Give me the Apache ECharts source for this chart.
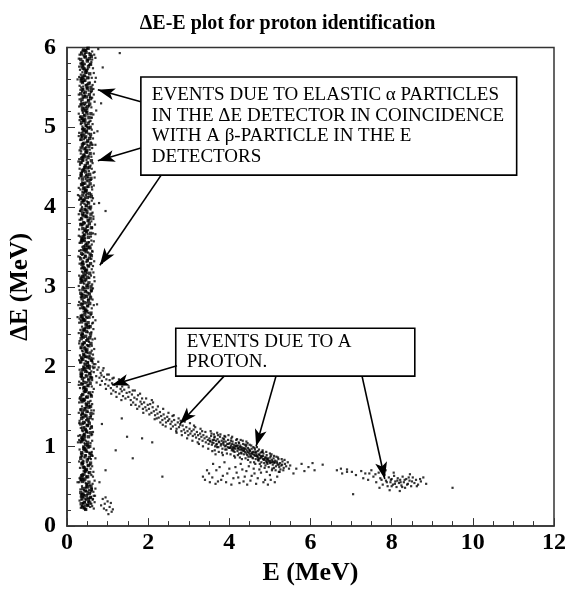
<!DOCTYPE html>
<html><head><meta charset="utf-8">
<script src="https://cdn.jsdelivr.net/npm/echarts@6/dist/echarts.min.js"></script>
<style>html,body{margin:0;padding:0;background:#fff}#c{width:575px;height:591px}</style>
</head><body><div id="c"></div>
<script>
// ---- data (E [MeV], dE [MeV]), flat x,y lists ----
const alphaBand = [
.31,5.91,.38,5.96,.44,5.92,.50,5.99,.35,5.94,.47,5.97,.41,5.90,.55,5.93,
.29,5.86,.36,5.81,.43,5.88,.52,5.84,.39,5.83,.46,5.89,.33,5.80,.49,5.85,
.32,5.72,.40,5.77,.47,5.71,.54,5.78,.36,5.75,.44,5.79,.30,5.76,.51,5.73,
.34,5.66,.41,5.61,.48,5.68,.30,5.63,.38,5.69,.45,5.64,.53,5.62,.36,5.60,
.31,5.52,.39,5.57,.46,5.53,.56,5.56,.35,5.50,.43,5.58,.50,5.54,.40,5.51,
.33,5.47,.42,5.43,.49,5.49,.29,5.41,.37,5.45,.45,5.40,.53,5.46,.39,5.48,
.35,5.32,.41,5.37,.48,5.31,.31,5.35,.44,5.39,.52,5.34,.38,5.30,.57,5.38,
.30,5.26,.37,5.21,.43,5.28,.50,5.23,.34,5.29,.46,5.25,.40,5.20,.54,5.27,
.32,5.13,.39,5.18,.45,5.11,.51,5.16,.36,5.10,.42,5.15,.48,5.19,.29,5.17,
.34,5.04,.41,5.08,.47,5.02,.55,5.07,.31,5.09,.38,5.01,.44,5.05,.50,5.00,
.30,4.93,.37,4.98,.43,4.91,.49,4.96,.35,4.90,.46,4.94,.40,4.99,.53,4.92,
.33,4.84,.39,4.80,.45,4.87,.52,4.82,.29,4.89,.42,4.85,.48,4.81,.36,4.88,
.31,4.71,.38,4.76,.44,4.73,.50,4.78,.35,4.70,.47,4.75,.41,4.79,.56,4.72,
.34,4.67,.40,4.62,.46,4.69,.53,4.64,.30,4.60,.43,4.66,.37,4.63,.49,4.68,
.32,4.53,.39,4.58,.45,4.51,.51,4.56,.36,4.55,.42,4.50,.48,4.59,.28,4.57,
.35,4.42,.41,4.47,.47,4.40,.54,4.45,.31,4.48,.38,4.44,.44,4.49,.50,4.41,
.30,4.36,.37,4.31,.43,4.38,.49,4.33,.34,4.39,.46,4.35,.40,4.30,.52,4.37,
.33,4.22,.39,4.27,.45,4.20,.51,4.25,.29,4.24,.42,4.29,.48,4.21,.36,4.28,
.31,4.14,.38,4.19,.44,4.12,.50,4.17,.35,4.11,.47,4.15,.41,4.18,.55,4.13,
.34,4.03,.40,4.08,.46,4.01,.52,4.06,.30,4.09,.43,4.04,.37,4.00,.49,4.07,
.32,3.95,.39,3.90,.45,3.97,.50,3.92,.36,3.98,.42,3.93,.48,3.96,.29,3.91,
.35,3.86,.41,3.81,.47,3.88,.53,3.83,.31,3.84,.38,3.89,.44,3.80,.50,3.87,
.30,3.72,.37,3.77,.43,3.70,.49,3.75,.34,3.79,.46,3.73,.40,3.78,.52,3.71,
.33,3.63,.39,3.68,.45,3.61,.51,3.66,.36,3.60,.42,3.65,.48,3.69,.29,3.64,
.31,3.55,.38,3.50,.44,3.57,.50,3.52,.35,3.58,.47,3.54,.41,3.51,.54,3.56,
.34,3.46,.40,3.41,.46,3.48,.52,3.43,.30,3.45,.43,3.49,.37,3.40,.49,3.47,
.32,3.37,.39,3.32,.45,3.39,.51,3.34,.36,3.30,.42,3.36,.48,3.31,.28,3.38,
.35,3.23,.41,3.28,.47,3.21,.53,3.26,.31,3.29,.38,3.24,.44,3.20,.50,3.27,
.30,3.14,.37,3.19,.43,3.12,.49,3.17,.34,3.10,.46,3.15,.40,3.18,.55,3.11,
.33,3.05,.39,3.00,.45,3.07,.51,3.02,.36,3.08,.42,3.04,.48,3.09,.29,3.01,
.31,2.96,.38,2.91,.44,2.98,.50,2.93,.35,2.90,.47,2.95,.41,2.99,.53,2.92,
.34,2.87,.40,2.82,.46,2.89,.52,2.84,.30,2.81,.43,2.86,.37,2.88,.49,2.80,
.32,2.73,.39,2.78,.45,2.71,.51,2.76,.36,2.79,.42,2.74,.48,2.70,.28,2.77,
.35,2.64,.41,2.69,.47,2.62,.53,2.67,.31,2.60,.38,2.65,.44,2.68,.50,2.61,
.30,2.55,.37,2.50,.43,2.57,.49,2.52,.34,2.58,.46,2.54,.40,2.59,.55,2.51,
.33,2.46,.39,2.41,.45,2.48,.51,2.43,.36,2.40,.42,2.45,.48,2.49,.29,2.42,
.31,2.32,.38,2.37,.44,2.30,.50,2.35,.35,2.39,.47,2.33,.41,2.36,.54,2.31,
.34,2.23,.40,2.28,.46,2.21,.52,2.26,.30,2.29,.43,2.24,.37,2.20,.49,2.27,
.32,2.14,.39,2.19,.45,2.12,.51,2.17,.36,2.10,.42,2.15,.48,2.18,.56,2.13,
.33,2.05,.40,2.00,.46,2.07,.53,2.02,.30,2.08,.43,2.04,.37,2.09,.50,2.01,
.31,1.96,.38,1.91,.44,1.98,.50,1.93,.35,1.90,.47,1.95,.41,1.99,.56,1.92,
.34,1.87,.40,1.82,.46,1.89,.52,1.84,.30,1.81,.43,1.86,.37,1.88,.49,1.80,
.32,1.73,.39,1.78,.45,1.71,.51,1.76,.36,1.79,.42,1.74,.48,1.70,.29,1.77,
.35,1.64,.41,1.69,.47,1.62,.53,1.67,.31,1.60,.38,1.65,.44,1.68,.50,1.61,
.30,1.55,.37,1.50,.43,1.57,.49,1.52,.34,1.58,.46,1.54,.40,1.59,.55,1.51,
.33,1.46,.39,1.41,.45,1.48,.51,1.43,.36,1.40,.42,1.45,.48,1.49,.29,1.42,
.31,1.32,.38,1.37,.44,1.30,.50,1.35,.35,1.39,.47,1.33,.41,1.36,.53,1.31,
.34,1.23,.40,1.28,.46,1.21,.52,1.26,.30,1.29,.43,1.24,.37,1.20,.49,1.27,
.32,1.14,.39,1.19,.45,1.12,.51,1.17,.36,1.10,.42,1.15,.48,1.18,.28,1.13,
.33,1.05,.40,1.00,.46,1.07,.52,1.02,.30,1.08,.43,1.04,.37,1.09,.49,1.01,
.31,0.96,.38,0.91,.44,0.98,.50,0.93,.35,0.90,.47,0.95,.41,0.99,.55,0.92,
.34,0.87,.40,0.82,.46,0.89,.52,0.84,.30,0.81,.43,0.86,.37,0.88,.49,0.80,
.32,0.73,.39,0.78,.45,0.71,.51,0.76,.36,0.79,.42,0.74,.48,0.70,.57,0.77,
.35,0.64,.41,0.69,.47,0.62,.53,0.67,.31,0.60,.38,0.65,.44,0.68,.50,0.61,
.30,0.55,.37,0.50,.43,0.57,.49,0.52,.34,0.58,.46,0.54,.40,0.59,.56,0.51,
.33,0.46,.39,0.41,.45,0.48,.51,0.43,.36,0.40,.42,0.45,.48,0.49,.60,0.44,
.31,0.32,.38,0.37,.44,0.30,.50,0.35,.35,0.39,.47,0.33,.41,0.36,.55,0.31,
.34,0.23,.40,0.28,.46,0.21,.52,0.26,.37,0.25,.43,0.22
];
const alphaCore = [
.36,5.92,.41,5.97,.47,5.94,.52,5.99,.57,5.91,.44,5.96,
.34,5.85,.39,5.80,.45,5.88,.50,5.83,.55,5.86,.60,5.89,
.37,5.78,.43,5.73,.48,5.71,.53,5.76,.58,5.79,.40,5.74,
.35,5.61,.42,5.65,.46,5.69,.51,5.62,.56,5.67,.38,5.63,
.38,5.56,.44,5.59,.49,5.52,.54,5.55,.59,5.50,.35,5.58,
.34,5.42,.39,5.47,.45,5.44,.50,5.49,.55,5.41,.60,5.46,
.37,5.35,.43,5.30,.48,5.38,.53,5.33,.58,5.36,.40,5.39,
.35,5.28,.42,5.23,.46,5.21,.51,5.26,.56,5.29,.38,5.24,
.38,5.11,.44,5.15,.49,5.19,.54,5.12,.59,5.17,.35,5.13,
.36,5.06,.41,5.09,.47,5.02,.52,5.05,.57,5.00,.44,5.08,
.37,4.92,.43,4.97,.48,4.94,.53,4.99,.58,4.91,.40,4.96,
.35,4.85,.42,4.80,.46,4.88,.51,4.83,.56,4.86,.38,4.89,
.38,4.78,.44,4.73,.49,4.71,.54,4.76,.59,4.79,.35,4.74,
.36,4.61,.41,4.65,.47,4.69,.52,4.62,.57,4.67,.44,4.63,
.34,4.56,.39,4.59,.45,4.52,.50,4.55,.55,4.50,.60,4.58,
.35,4.42,.42,4.47,.46,4.44,.51,4.49,.56,4.41,.38,4.46,
.38,4.35,.44,4.30,.49,4.38,.54,4.33,.59,4.36,.35,4.39,
.36,4.28,.41,4.23,.47,4.21,.52,4.26,.57,4.29,.44,4.24,
.34,4.11,.39,4.15,.45,4.19,.50,4.12,.55,4.17,.60,4.13,
.37,4.06,.43,4.09,.48,4.02,.53,4.05,.58,4.00,.40,4.08,
.38,3.92,.44,3.97,.49,3.94,.54,3.99,.59,3.91,.35,3.96,
.36,3.85,.41,3.80,.47,3.88,.52,3.83,.57,3.86,.44,3.89,
.34,3.78,.39,3.73,.45,3.71,.50,3.76,.55,3.79,.60,3.74,
.37,3.61,.43,3.65,.48,3.69,.53,3.62,.58,3.67,.40,3.63,
.35,3.56,.42,3.59,.46,3.52,.51,3.55,.56,3.50,.38,3.58,
.36,3.42,.41,3.47,.47,3.44,.52,3.49,.57,3.41,.44,3.46,
.34,3.35,.39,3.30,.45,3.38,.50,3.33,.55,3.36,.60,3.39,
.37,3.28,.43,3.23,.48,3.21,.53,3.26,.58,3.29,.40,3.24,
.35,3.11,.42,3.15,.46,3.19,.51,3.12,.56,3.17,.38,3.13,
.38,3.06,.44,3.09,.49,3.02,.54,3.05,.59,3.00,.35,3.08,
.34,2.92,.39,2.97,.45,2.94,.50,2.99,.55,2.91,.60,2.96,
.37,2.85,.43,2.80,.48,2.88,.53,2.83,.58,2.86,.40,2.89,
.35,2.78,.42,2.73,.46,2.71,.51,2.76,.56,2.79,.38,2.74,
.38,2.61,.44,2.65,.49,2.69,.54,2.62,.59,2.67,.35,2.63,
.36,2.56,.41,2.59,.47,2.52,.52,2.55,.57,2.50,.44,2.58,
.37,2.42,.43,2.47,.48,2.44,.53,2.49,.58,2.41,.40,2.46,
.35,2.35,.42,2.30,.46,2.38,.51,2.33,.56,2.36,.38,2.39,
.38,2.28,.44,2.23,.49,2.21,.54,2.26,.59,2.29,.35,2.24,
.36,2.11,.41,2.15,.47,2.19,.52,2.12,.57,2.17,.44,2.13,
.34,2.06,.39,2.09,.45,2.02,.50,2.05,.55,2.00,.60,2.08,
.35,1.92,.42,1.97,.46,1.94,.51,1.99,.56,1.91,.38,1.96,
.38,1.85,.44,1.80,.49,1.88,.54,1.83,.59,1.86,.35,1.89,
.36,1.78,.41,1.73,.47,1.71,.52,1.76,.57,1.79,.44,1.74,
.34,1.61,.39,1.65,.45,1.69,.50,1.62,.55,1.67,.60,1.63,
.37,1.56,.43,1.59,.48,1.52,.53,1.55,.58,1.50,.40,1.58,
.38,1.42,.44,1.47,.49,1.44,.54,1.49,.59,1.41,.35,1.46,
.36,1.35,.41,1.30,.47,1.38,.52,1.33,.57,1.36,.44,1.39,
.34,1.28,.39,1.23,.45,1.21,.50,1.26,.55,1.29,.60,1.24,
.37,1.11,.43,1.15,.48,1.19,.53,1.12,.58,1.17,.40,1.13,
.35,1.06,.42,1.09,.46,1.02,.51,1.05,.56,1.00,.38,1.08,
.36,0.92,.41,0.97,.47,0.94,.52,0.99,.57,0.91,.44,0.96,
.34,0.85,.39,0.80,.45,0.88,.50,0.83,.55,0.86,.60,0.89,
.37,0.78,.43,0.73,.48,0.71,.53,0.76,.58,0.79,.40,0.74,
.35,0.61,.42,0.65,.46,0.69,.51,0.62,.56,0.67,.38,0.63,
.38,0.56,.44,0.59,.49,0.52,.54,0.55,.59,0.50,.35,0.58,
.34,0.42,.39,0.47,.45,0.44,.50,0.49,.55,0.41,.60,0.46,
.37,0.35,.43,0.30,.48,0.38,.53,0.33,.58,0.36,.40,0.39,
.35,0.28,.42,0.23,.46,0.21,.51,0.26,.56,0.29,.38,0.24
];
const alphaEdge = [
.62,5.95,.67,5.91,.60,5.82,.70,5.87,.64,5.74,.58,5.79,.66,5.68,.61,5.62,.63,5.53,.69,5.57,
.59,5.44,.65,5.48,.68,5.32,.62,5.37,.60,5.25,.72,5.21,.65,5.16,.61,5.12,.63,5.04,.58,5.08,
.67,4.93,.61,4.97,.64,4.86,.59,4.81,.62,4.74,.70,4.78,.60,4.63,.66,4.67,.63,4.55,.58,4.52,
.65,4.43,.61,4.48,.59,4.34,.68,4.37,.62,4.22,.66,4.27,.60,4.16,.64,4.11,.67,4.04,.61,4.08,
.63,3.93,.58,3.97,.65,3.85,.60,3.82,.62,3.74,.69,3.78,.59,3.63,.64,3.67,.61,3.53,.66,3.57,
.63,3.44,.58,3.48,.60,3.35,.67,3.32,.64,3.26,.61,3.22,.59,3.14,.65,3.18,.62,3.03,.68,3.07,
.60,2.94,.64,2.98,.63,2.84,.58,2.88,.61,2.73,.66,2.77,.59,2.65,.64,2.62,.62,2.54,.70,2.58,
.60,2.43,.65,2.47,.63,2.34,.58,2.38,.61,2.26,.67,2.22,.64,2.15,.60,2.11,.66,2.03,.62,2.07,
.60,1.94,.65,1.98,.62,1.83,.58,1.87,.61,1.75,.66,1.72,.59,1.64,.63,1.68,.62,1.53,.58,1.57,
.60,1.45,.65,1.41,.63,1.34,.59,1.38,.61,1.25,.57,1.22,.60,1.14,.64,1.18,.58,1.04,.62,1.07,
.61,0.93,.66,0.97,.59,0.84,.63,0.88,.62,0.75,.58,0.72,.60,0.64,.65,0.68,.63,0.53,.68,0.57,
.65,0.43,.70,0.47,.64,0.34,.69,0.38,.62,0.25,.66,0.22
];
const alphaSparse = [
.62,5.85,.71,5.62,.66,5.41,.84,5.30,.60,5.12,.75,4.95,.63,4.78,.92,4.60,.68,4.44,.61,4.25,
.79,4.05,.65,3.88,.70,3.66,.62,3.45,.86,3.30,.67,3.12,.60,2.95,.74,2.78,.64,2.55,.69,2.35,
.61,2.20,.77,5.98,.88,5.75,.58,4.88,.60,3.58,.95,3.95,1.30,5.93,.66,1.45,.62,1.15,.70,0.85,
.64,0.62,.59,1.65,.63,2.05,.26,5.60,.27,4.15,.26,2.62,.27,1.05,.26,0.55
];
const lowBlob = [
.55,0.35,.60,0.28,.58,0.42,.63,0.33,.52,0.30,.57,0.24,.66,0.38,.54,0.45,.61,0.47,.49,0.27,
.45,0.34,.39,0.29,.42,0.39,.36,0.33,.50,0.40,.47,0.44,.34,0.37,.68,0.30,.59,0.36,.44,0.26,
.88,0.34,.93,0.28,1.00,0.31,1.05,0.24,.97,0.20,1.10,0.18,1.02,0.15,.91,0.22,1.08,0.29,.95,0.36,
1.13,0.21,.84,0.26
];
const protonBand = [
.52,2.05,.56,1.97,.60,2.08,.63,2.00,.66,1.93,.70,2.03,.72,1.88,.75,1.96,.78,1.99,.80,1.86,
.83,1.92,.86,1.82,.88,1.95,.91,1.87,.94,1.78,.97,1.84,.99,1.90,.58,1.90,.68,1.99,.85,1.89,
1.02,1.76,1.05,1.83,1.08,1.73,1.11,1.79,1.14,1.70,1.17,1.77,1.20,1.68,1.23,1.75,1.26,1.80,1.29,1.66,
1.32,1.72,1.35,1.69,1.38,1.63,1.41,1.71,1.44,1.60,1.47,1.67,1.12,1.85,1.36,1.75,
1.51,1.62,1.54,1.68,1.57,1.58,1.60,1.65,1.63,1.55,1.66,1.61,1.69,1.52,1.72,1.59,1.75,1.64,1.78,1.50,
1.81,1.56,1.84,1.53,1.87,1.47,1.90,1.55,1.93,1.49,1.96,1.45,1.99,1.52,1.62,1.70,1.85,1.60,
2.02,1.47,2.05,1.53,2.08,1.42,2.11,1.49,2.14,1.44,2.17,1.39,2.20,1.46,2.23,1.41,2.26,1.36,2.29,1.43,
2.32,1.38,2.35,1.33,2.38,1.40,2.41,1.35,2.44,1.30,2.47,1.37,2.49,1.32,2.12,1.55,2.36,1.27,2.21,1.35,
2.52,1.34,2.55,1.28,2.58,1.31,2.61,1.25,2.64,1.33,2.67,1.27,2.70,1.22,2.73,1.30,2.76,1.24,2.79,1.27,
2.82,1.19,2.85,1.26,2.88,1.21,2.91,1.17,2.94,1.24,2.97,1.19,2.99,1.14,2.60,1.38,2.80,1.32,2.70,1.17,
3.02,1.22,3.04,1.16,3.07,1.19,3.10,1.13,3.12,1.21,3.15,1.15,3.18,1.11,3.20,1.18,3.23,1.14,3.26,1.09,
3.28,1.16,3.31,1.12,3.34,1.07,3.36,1.14,3.39,1.10,3.42,1.05,3.44,1.12,3.47,1.08,3.49,1.03,3.13,1.26,
3.33,1.19,3.25,1.03,
3.51,1.10,3.53,1.06,3.55,1.13,3.57,1.02,3.59,1.08,3.61,1.04,3.63,1.11,3.65,1.00,3.67,1.07,3.69,1.03,
3.71,1.09,3.73,0.99,3.75,1.05,3.77,1.12,3.79,1.01,3.81,1.07,3.83,0.97,3.85,1.04,3.87,1.09,3.89,1.00,
3.91,1.06,3.93,0.96,3.95,1.03,3.97,1.08,3.99,0.98,3.56,1.16,3.72,1.14,3.88,1.13,3.64,0.95,3.82,0.92,
4.01,1.04,4.02,0.98,4.04,1.01,4.06,0.95,4.08,1.06,4.09,0.99,4.11,1.02,4.13,0.93,4.15,0.97,4.16,1.04,
4.18,1.00,4.20,0.94,4.22,0.98,4.23,1.05,4.25,0.96,4.27,1.01,4.29,0.92,4.30,0.99,4.32,0.95,4.34,1.03,
4.36,0.90,4.37,0.97,4.39,0.93,4.41,1.00,4.43,0.95,4.44,0.89,4.46,0.98,4.48,0.92,4.49,0.96,4.05,1.10,
4.19,1.09,4.33,1.07,4.45,1.04,4.12,0.88,4.26,0.86,4.40,0.85,4.10,0.96,4.24,0.91,4.38,1.02,4.47,0.87,
4.51,0.94,4.53,0.88,4.55,0.97,4.56,0.91,4.58,0.85,4.60,0.93,4.62,0.89,4.63,0.96,4.65,0.84,4.67,0.90,
4.69,0.87,4.70,0.94,4.72,0.82,4.74,0.89,4.76,0.85,4.77,0.92,4.79,0.80,4.81,0.87,4.83,0.84,4.84,0.91,
4.86,0.79,4.88,0.86,4.90,0.82,4.92,0.89,4.94,0.78,4.96,0.85,4.98,0.81,4.54,1.01,4.68,0.99,4.82,0.95,
4.61,0.80,4.75,0.78,4.89,0.76,4.57,0.86,4.71,0.83,
5.01,0.86,5.03,0.80,5.05,0.83,5.07,0.77,5.09,0.85,5.11,0.79,5.13,0.82,5.15,0.75,5.17,0.81,5.19,0.77,
5.21,0.84,5.23,0.74,5.25,0.79,5.28,0.76,5.31,0.81,5.34,0.73,5.37,0.78,5.04,0.90,5.16,0.87,5.26,0.71
];
const protonWide = [
.48,2.12,.55,2.10,.62,1.86,.65,2.10,.73,1.80,.77,2.06,.82,1.77,.90,1.98,.96,1.72,1.03,1.90,
1.09,1.66,1.15,1.86,1.22,1.62,1.28,1.84,1.34,1.58,1.40,1.78,
1.52,1.74,1.58,1.52,1.67,1.70,1.73,1.47,1.80,1.66,1.88,1.42,1.95,1.60,2.03,1.40,2.09,1.58,2.16,1.34,
2.24,1.50,2.30,1.30,2.37,1.47,2.43,1.25,2.50,1.42,2.56,1.22,2.63,1.39,2.69,1.19,2.75,1.35,2.83,1.14,
2.90,1.31,2.96,1.10,
3.03,1.29,3.09,1.07,3.16,1.24,3.22,1.05,3.29,1.22,3.35,1.00,3.41,1.18,3.48,0.97,3.54,1.19,3.58,0.94,
3.62,1.15,3.66,0.90,3.70,1.17,3.74,0.93,3.78,1.15,3.84,0.89,3.90,1.12,3.94,0.91,3.98,1.14,4.03,0.90,
4.07,1.12,4.14,0.86,4.17,1.08,4.21,0.89,4.28,1.08,4.31,0.84,4.35,0.98,4.42,1.06,4.46,0.83,4.50,1.02,
4.52,0.80,4.59,0.99,4.64,0.78,4.66,0.93,4.73,0.96,4.78,0.75,4.80,0.93,4.87,0.73,4.91,0.93,4.93,0.84,
4.97,0.74,5.00,0.91,5.06,0.72,5.10,0.88,5.14,0.70,5.20,0.86,5.24,0.68,5.29,0.84,5.33,0.70,5.36,0.83,
5.40,0.75,5.44,0.80,5.47,0.72,
3.86,1.02,3.96,0.99,4.07,0.97,4.14,1.00,4.21,1.01,4.28,0.96,4.35,0.94,4.42,0.91,4.50,0.90,4.57,0.93,
4.64,0.88,4.71,0.86,4.78,0.88,4.85,0.83,4.93,0.80,5.00,0.79,5.08,0.81,5.18,0.79
];
const protonCore = [
3.52,1.07,3.58,1.05,3.62,1.08,3.68,1.02,3.74,1.06,3.80,1.03,3.86,1.06,3.92,1.01,3.98,1.03,4.03,0.99,
4.07,1.03,4.12,0.98,4.17,1.01,4.21,0.97,4.26,0.99,4.31,0.97,4.36,0.95,4.40,0.97,4.45,0.93,4.50,0.95,
4.54,0.91,4.59,0.90,4.64,0.92,4.68,0.88,4.73,0.90,4.78,0.86,4.83,0.88,4.87,0.84,4.91,0.86,4.95,0.83,
5.00,0.82,5.06,0.80,5.12,0.80,5.22,0.77,5.30,0.77,3.70,0.99,3.90,0.96,4.10,0.94,4.30,0.91,4.52,0.87,
4.72,0.84,4.92,0.80,3.64,1.12,3.84,1.10,4.04,1.07,4.24,1.04,4.42,1.02,4.62,0.98,4.82,0.93,5.02,0.88
];
const protonSparse = [
3.35,0.62,3.52,0.55,3.68,0.70,3.80,0.58,3.95,0.66,4.05,0.52,4.15,0.74,4.22,0.61,4.35,0.56,4.42,0.69,
4.55,0.63,4.66,0.53,4.78,0.67,4.88,0.58,5.00,0.64,5.12,0.55,5.22,0.68,3.60,0.78,3.88,0.80,4.28,0.78,
4.60,0.72,5.05,0.70,3.45,0.70,4.95,0.52,
3.40,0.58,3.50,0.66,3.58,0.61,3.72,0.56,3.76,0.74,3.84,0.63,3.92,0.55,4.00,0.72,4.10,0.60,4.18,0.67,
4.25,0.54,4.32,0.71,4.38,0.62,4.48,0.75,4.52,0.57,4.62,0.66,4.70,0.60,4.74,0.71,4.84,0.55,4.92,0.68,
5.02,0.58,5.10,0.73,5.18,0.62,3.66,0.53,4.44,0.52,
5.50,0.76,5.65,0.72,5.78,0.78,5.95,0.74,6.10,0.70,6.30,0.77,5.58,0.66,6.05,0.79,6.75,0.72,6.90,0.68,5.85,0.69,
0.86,1.28,1.48,1.12,1.85,1.10,1.20,0.95,0.95,0.70,1.62,0.85,2.10,1.05,0.80,0.55,1.35,1.35,2.35,0.62
];
const farCluster = [
6.65,0.70,6.78,0.66,6.90,0.71,7.02,0.68,7.12,0.64,7.05,0.40,7.25,0.69,7.35,0.66,7.42,0.58,7.50,0.70,
7.55,0.62,7.62,0.55,7.68,0.67,7.72,0.60,7.78,0.52,7.82,0.64,7.86,0.57,7.90,0.50,7.93,0.61,7.97,0.55,
8.00,0.59,8.03,0.52,8.06,0.63,8.09,0.56,8.12,0.49,8.15,0.60,8.18,0.54,8.21,0.58,8.24,0.51,8.27,0.62,
8.30,0.55,8.33,0.48,8.36,0.59,8.40,0.53,8.44,0.57,8.48,0.50,8.52,0.61,8.56,0.54,8.60,0.58,8.65,0.52,
8.72,0.56,8.78,0.61,8.85,0.53,7.95,0.45,8.20,0.44,7.70,0.48,8.05,0.67,8.45,0.65,9.50,0.48,7.30,0.60,7.85,0.70,
7.88,0.55,7.98,0.58,8.08,0.53,8.14,0.57,8.22,0.55,8.32,0.58,8.38,0.52,8.50,0.56,7.75,0.58,8.00,0.50,
8.26,0.49,8.42,0.61,7.60,0.65,7.45,0.66,8.62,0.50,8.70,0.59
];
// axis ticks
const xTicks = [0,2,4,6,8,10,12];
const yTicks = [0,1,2,3,4,5,6];
// annotation texts
const box1Lines = ["EVENTS DUE TO ELASTIC \u03b1 PARTICLES","IN THE \u0394E DETECTOR IN COINCIDENCE","WITH A \u03b2-PARTICLE IN THE E","DETECTORS"];
const box2Lines = ["EVENTS DUE TO A","PROTON."];
// annotation arrows: [from E, from dE, to E, to dE]
const arrows = [
 [1.82,5.32,0.76,5.47],
 [1.82,4.74,0.76,4.58],
 [2.32,4.40,0.81,3.27],
 [2.71,2.01,1.11,1.77],
 [3.87,1.88,2.78,1.28],
 [5.15,1.88,4.66,1.00],
 [7.27,1.88,7.83,0.59]
];
// annotation boxes in data coords: [left E, top dE, right E, bottom dE]
const box1 = [1.82,5.63,11.08,4.40];
const box2 = [2.68,2.48,8.57,1.88];

function pairs(f){const o=[];for(let i=0;i<f.length;i+=2)o.push([f[i],f[i+1]]);return o;}
const finePts = [].concat(pairs(alphaBand),pairs(alphaEdge),pairs(alphaSparse),pairs(lowBlob),pairs(protonBand),pairs(protonWide),pairs(protonCore),pairs(protonSparse),pairs(farCluster));

const FONT = '"Liberation Serif","Times New Roman",serif';
const chart = echarts.init(document.getElementById('c'));
chart.setOption({
  animation:false,
  backgroundColor:'#fff',
  title:{text:'\u0394E-E plot for proton identification',left:'center',top:9,
    textStyle:{fontFamily:FONT,fontWeight:'bold',fontSize:20,color:'#000'}},
  grid:{left:67,right:21,top:47.5,bottom:55,show:true,borderColor:'#333',borderWidth:1.5,backgroundColor:'transparent'},
  xAxis:{type:'value',min:xTicks[0],max:xTicks[xTicks.length-1],interval:2,
    name:'E (MeV)',nameLocation:'middle',nameGap:28,
    nameTextStyle:{fontFamily:FONT,fontWeight:'bold',fontSize:26,color:'#000'},
    axisLine:{show:true,lineStyle:{color:'#333',width:1.5}},
    axisTick:{show:true,inside:true,length:8,lineStyle:{color:'#333',width:1}},
    minorTick:{show:true,splitNumber:4,length:5,lineStyle:{color:'#333',width:1}},
    splitLine:{show:false},
    axisLabel:{fontFamily:FONT,fontWeight:'bold',fontSize:24,color:'#000',margin:5}},
  yAxis:{type:'value',min:yTicks[0],max:yTicks[yTicks.length-1],interval:1,
    name:'\u0394E (MeV)',nameLocation:'middle',nameGap:33,
    nameTextStyle:{fontFamily:FONT,fontWeight:'bold',fontSize:25,color:'#000'},
    axisLine:{show:true,lineStyle:{color:'#333',width:1.5}},
    axisTick:{show:true,inside:true,length:8,lineStyle:{color:'#333',width:1}},
    minorTick:{show:true,splitNumber:5,length:4,lineStyle:{color:'#333',width:1}},
    splitLine:{show:false},
    axisLabel:{fontFamily:FONT,fontWeight:'bold',fontSize:24,color:'#000',margin:11,padding:[3,0,0,0]}},
  series:[{
    type:'scatter',data:finePts,symbol:'rect',symbolSize:2.2,
    itemStyle:{color:'#000'},silent:true,
    markLine:{silent:true,symbol:['none','arrow'],symbolSize:[9,17],
      label:{show:false},lineStyle:{color:'#000',width:1.6,type:'solid'},
      data:arrows.map(a=>[{coord:[a[0],a[1]]},{coord:[a[2],a[3]]}])}
  },{
    type:'scatter',data:pairs(alphaCore),symbol:'rect',symbolSize:3.4,
    itemStyle:{color:'#000'},silent:true
  }]
});
function boxGraphic(b,lines,lh,pad){
  const p1=chart.convertToPixel({gridIndex:0},[b[0],b[1]]);
  const p2=chart.convertToPixel({gridIndex:0},[b[2],b[3]]);
  const h=p2[1]-p1[1];
  return {type:'group',z:100,children:[
    {type:'rect',shape:{x:p1[0],y:p1[1],width:p2[0]-p1[0],height:h},
      style:{fill:'#fff',stroke:'#000',lineWidth:1.6}},
    {type:'text',x:p1[0]+pad,y:p1[1]+h/2,
      style:{text:lines.join('\n'),font:'19px '+FONT,fill:'#000',lineHeight:lh,verticalAlign:'middle',align:'left'}}
  ]};
}
chart.setOption({graphic:[boxGraphic(box1,box1Lines,20.7,11),boxGraphic(box2,box2Lines,19.5,11)]});
</script></body></html>
